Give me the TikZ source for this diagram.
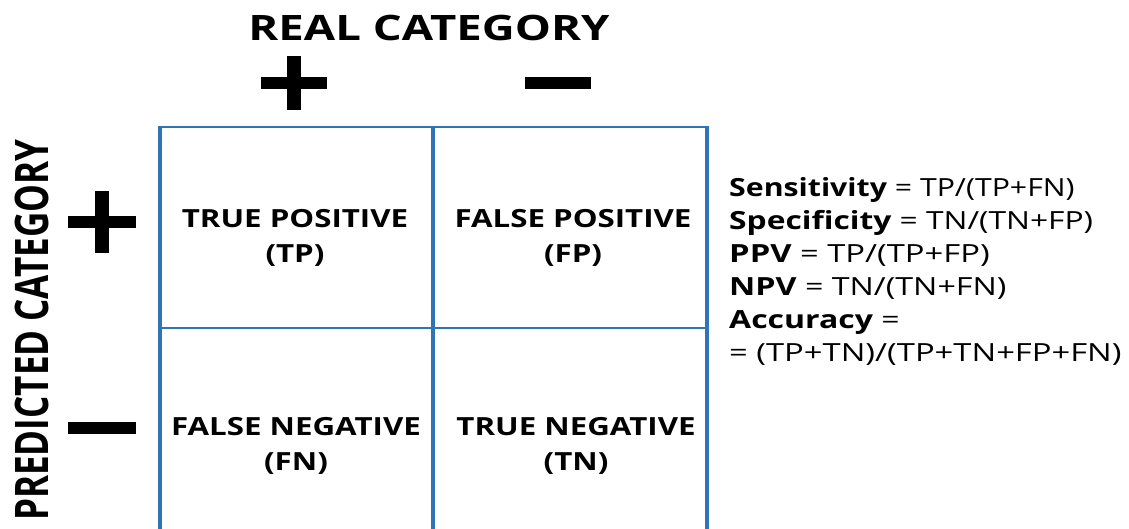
\documentclass[tikz,border=0pt]{standalone}
\usepackage{fontspec}
\setmainfont{Open Sans}
\definecolor{gridblue}{HTML}{2E75B6}
\newcommand{\wide}[2]{\scalebox{#1}[1]{#2}}
\begin{document}
\begin{tikzpicture}[x=1pt,y=-1pt,
  title/.style={font=\fontsize{35}{40}\selectfont\bfseries, inner sep=0pt},
  cell/.style={font=\fontsize{25}{35}\selectfont\bfseries, inner sep=0pt},
  formula/.style={font=\fontsize{25}{33}\selectfont, align=left, anchor=north west, inner sep=0pt},
  hbar/.style={line width=12pt, line cap=butt},
  vbar/.style={line width=14.5pt, line cap=butt},
  hgrid/.style={draw=gridblue, line width=2.6pt},
  vgrid/.style={draw=gridblue, line width=3.2pt}]
\useasboundingbox (0,0) rectangle (1129,529);
% titles
\node[title] (real) at (429,28) {\wide{1.3}{REAL CATEGORY}};
\node[title] (pred) at (31.5,330) {\rotatebox{90}{\scalebox{1}[1.32]{PREDICTED CATEGORY}}};
% signs top
\coordinate (tp) at (294,83);
\draw[hbar] ([xshift=-33pt]tp) -- ([xshift=33pt]tp);
\draw[vbar] ([yshift=-27pt]tp) -- ([yshift=27pt]tp);
\coordinate (tm) at (558,83);
\draw[hbar] ([xshift=-33pt]tm) -- ([xshift=33pt]tm);
% signs left
\coordinate (lp) at (102,222);
\draw[hbar] ([xshift=-34pt]lp) -- ([xshift=34pt]lp);
\draw[vbar] ([yshift=-31pt]lp) -- ([yshift=31pt]lp);
\coordinate (lm) at (102,428);
\draw[hbar] ([xshift=-34pt]lm) -- ([xshift=34pt]lm);
% grid
\coordinate (g1) at (160,127);
\coordinate (g2) at (707,127);
\coordinate (g3) at (707,531);
\coordinate (g4) at (160,531);
\coordinate (m1) at (433,127);
\coordinate (m2) at (433,531);
\coordinate (h1) at (160,328);
\coordinate (h2) at (707,328);
\draw[vgrid] (g4) -- (g1);
\draw[vgrid] (g2) -- (g3);
\draw[vgrid] (m1) -- (m2);
\draw[hgrid] ([xshift=-1.6pt]g1) -- ([xshift=1.6pt]g2);
\draw[hgrid] (h1) -- (h2);
% cells
\node[cell] (tpc) at (295,238) {\wide{1.25}{\begin{tabular}{@{}c@{}}TRUE POSITIVE\\(TP)\end{tabular}}};
\node[cell] (fpc) at (573,238) {\wide{1.25}{\begin{tabular}{@{}c@{}}FALSE POSITIVE\\(FP)\end{tabular}}};
\node[cell] (fnc) at (296,446) {\wide{1.25}{\begin{tabular}{@{}c@{}}FALSE NEGATIVE\\(FN)\end{tabular}}};
\node[cell] (tnc) at (576,446) {\wide{1.25}{\begin{tabular}{@{}c@{}}TRUE NEGATIVE\\(TN)\end{tabular}}};
% formulas
\node[formula] (form) at (729,177) {\wide{1.21}{\textbf{Sensitivity} = TP/(TP+FN)}\\
\wide{1.27}{\textbf{Specificity} = TN/(TN+FP)}\\
\wide{1.31}{\textbf{PPV} = TP/(TP+FP)}\\
\wide{1.29}{\textbf{NPV} = TN/(TN+FN)}\\
\wide{1.28}{\textbf{Accuracy} =}\\
\wide{1.31}{= (TP+TN)/(TP+TN+FP+FN)}};
\end{tikzpicture}
\end{document}
